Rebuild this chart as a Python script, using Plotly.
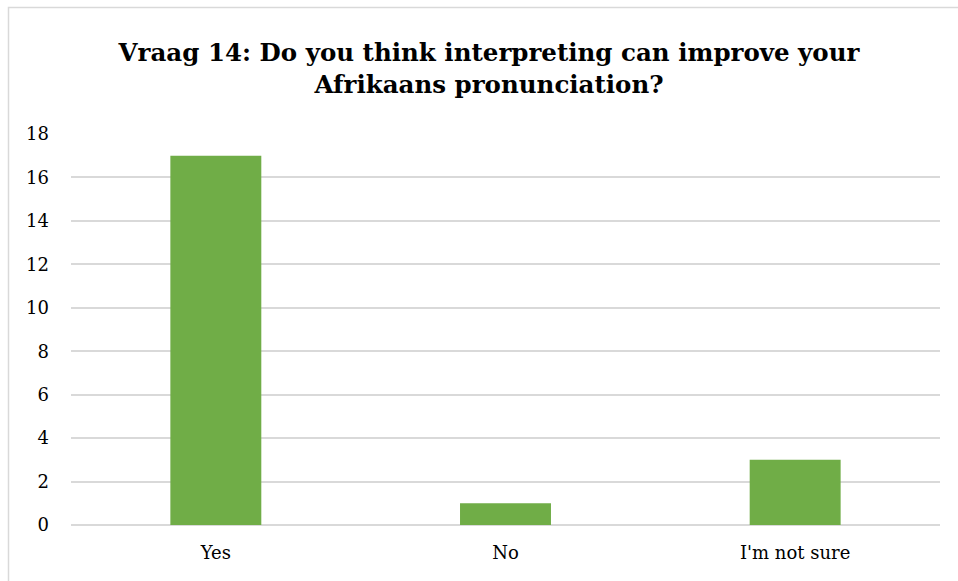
import plotly.graph_objects as go

categories = ["Yes", "No", "I'm not sure"]
values = [17, 1, 3]
y_ticks = [0, 2, 4, 6, 8, 10, 12, 14, 16, 18]

title_text = "Vraag 14: Do you think interpreting can improve your<br>Afrikaans pronunciation?"

# only DejaVu Serif renders as a serif face in the sandbox
FONT = "'DejaVu Serif'"

fig = go.Figure(go.Bar(x=categories, y=values, marker=dict(color="#70ad47", line=dict(width=0)),
                       hoverinfo="x+y"))

W, H = 958, 581
L, R, T, B = 71, 18, 134, 56
pw = W - L - R
ph = H - T - B

fig.update_layout(
    width=W, height=H,
    margin=dict(l=L, r=R, t=T, b=B),
    paper_bgcolor="white", plot_bgcolor="white",
    bargap=0.686,
    showlegend=False,
    font=dict(family=FONT, color="#000000", size=18),
    title=dict(text="<b>" + title_text + "</b>", x=489 / W, xanchor="center", xref="container",
               y=1 - 61 / H, yanchor="middle", yref="container",
               font=dict(size=24.5, family=FONT, color="#000000")),
    xaxis=dict(showgrid=False, showline=False, ticks="", tickfont=dict(size=18, family=FONT),
               ticklabelstandoff=15),
    yaxis=dict(range=[0, 18], tickvals=y_ticks, showgrid=True, gridcolor="#d9d9d9", gridwidth=1.5,
               zeroline=True, zerolinecolor="#d9d9d9", zerolinewidth=1.5, showline=False, ticks="",
               tickfont=dict(size=18, family=FONT), ticklabelstandoff=21),
    shapes=[dict(type="rect", xref="paper", yref="paper",
                 x0=(8.5 - L) / pw, x1=1.2, y0=-0.3, y1=(H - B - 7.5) / ph,
                 line=dict(color="#d9d9d9", width=1.5), fillcolor="rgba(0,0,0,0)", layer="below")],
)

fig.write_html("out.html")
